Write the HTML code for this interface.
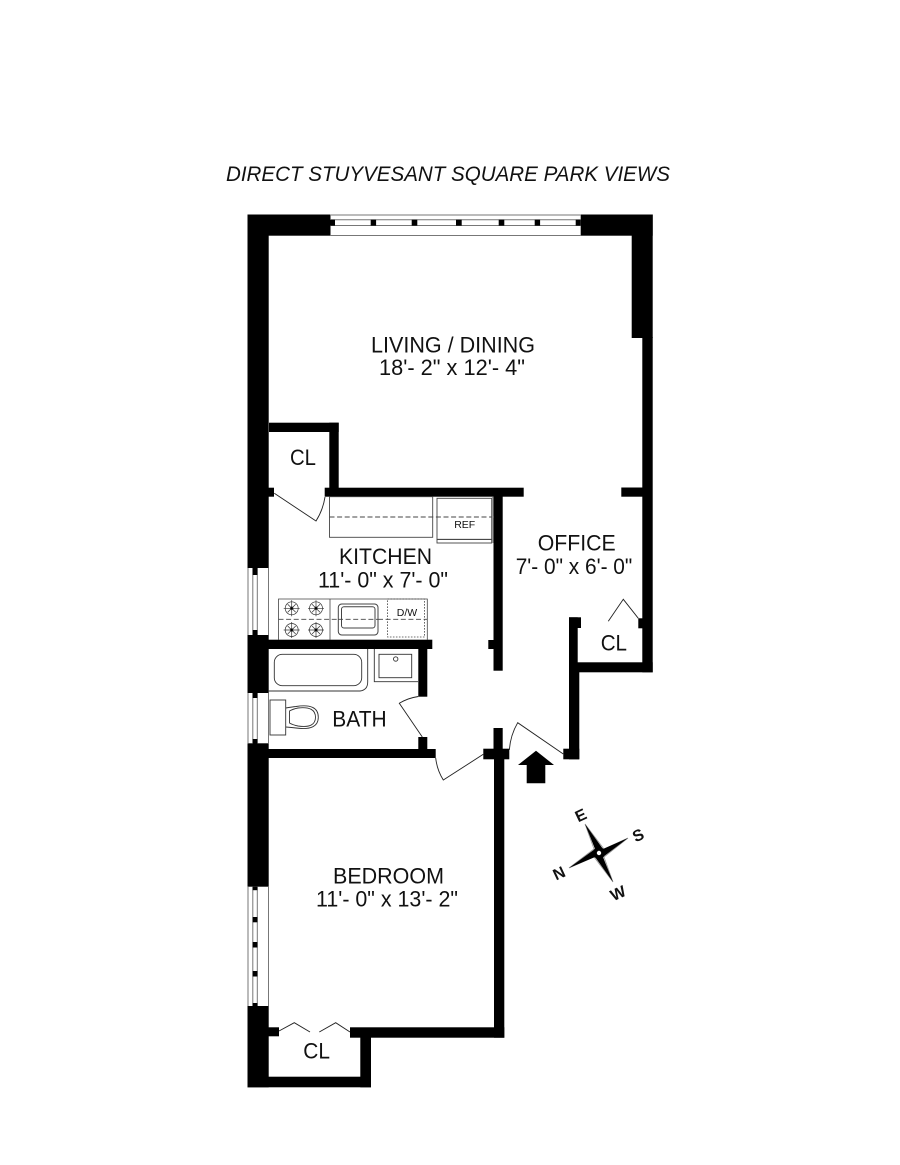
<!DOCTYPE html>
<html><head><meta charset="utf-8"><style>
html,body{margin:0;padding:0;background:#fff}
svg{display:block}
text{font-family:"Liberation Sans",Arial,sans-serif;fill:#111}
</style></head><body>
<svg width="900" height="1165" viewBox="0 0 900 1165" xmlns="http://www.w3.org/2000/svg">
<rect width="900" height="1165" fill="#fff"/>
<text x="226" y="181" font-size="21.5" font-style="italic" textLength="444" lengthAdjust="spacingAndGlyphs">DIRECT STUYVESANT SQUARE PARK VIEWS</text>

<!-- walls -->
<g fill="#000">
<rect x="247.5" y="214.5" width="83" height="21.2"/>
<rect x="580.7" y="214.5" width="72" height="21.2"/>
<rect x="247.5" y="214.5" width="21.2" height="353.5"/>
<rect x="631.7" y="214.5" width="21" height="123.5"/>
<rect x="642.3" y="337" width="10.4" height="335.3"/>
<rect x="269" y="422.7" width="69.7" height="9.3"/>
<rect x="329.3" y="422.7" width="9.4" height="70"/>
<rect x="324.7" y="487.7" width="199" height="9"/>
<rect x="268" y="487.7" width="6" height="9"/>
<rect x="621.3" y="487.5" width="21.5" height="9.2"/>
<rect x="493.5" y="496" width="9.2" height="174.7"/>
<rect x="488.3" y="640" width="6" height="9"/>
<rect x="247.5" y="635" width="21.2" height="58"/>
<rect x="268" y="639.7" width="164.3" height="9.3"/>
<rect x="418.3" y="649" width="9" height="47.7"/>
<rect x="418.3" y="737" width="9" height="13"/>
<rect x="247.5" y="743.3" width="21.2" height="143.4"/>
<rect x="268" y="749" width="167.7" height="9"/>
<rect x="493.5" y="728" width="9.2" height="21"/>
<rect x="483.3" y="748.7" width="26" height="10.6"/>
<rect x="494" y="759" width="10.3" height="278.7"/>
<rect x="350" y="1027.3" width="154.3" height="10.4"/>
<rect x="247.5" y="1006" width="21.2" height="81.3"/>
<rect x="268" y="1027.3" width="11" height="9"/>
<rect x="360.3" y="1030" width="10.7" height="57.3"/>
<rect x="247.5" y="1076.7" width="123.5" height="10.6"/>
<rect x="569" y="662.3" width="83.7" height="10"/>
<rect x="569" y="617.3" width="8.7" height="50"/>
<rect x="569" y="617.3" width="12" height="10.7"/>
<rect x="569" y="670" width="10.3" height="89.3"/>
<rect x="563.3" y="748.7" width="16" height="10.6"/>
<rect x="638.3" y="618.3" width="5" height="10"/>
<path d="M536 750.7 L554 765 L545.3 765 L545.3 783.3 L526.7 783.3 L526.7 765 L518 765 Z"/>
</g>

<!-- top window -->
<g fill="none" stroke="#777" stroke-width="1">
<path d="M330 215 H580.7 M330 219.7 H580.7 M330 225.5 H580.7 M330 235.5 H580.7"/>
</g>
<g fill="#000">
<rect x="330" y="219.7" width="5" height="6"/><rect x="370.7" y="219.7" width="5.4" height="6"/>
<rect x="411.7" y="219.7" width="5.6" height="6"/><rect x="456" y="219.7" width="5.7" height="6"/>
<rect x="498.7" y="219.7" width="5.6" height="6"/><rect x="534.7" y="219.7" width="5.4" height="6"/>
<rect x="575.7" y="219.7" width="5" height="6"/>
</g>

<!-- left windows -->
<g fill="none" stroke="#777" stroke-width="1">
<path d="M248 568 V635 M252.8 568 V635 M257.3 568 V635 M268.5 568 V635"/>
<path d="M248 693 V743.3 M252.8 693 V743.3 M257.3 693 V743.3 M268.5 693 V743.3"/>
<path d="M248 886.7 V1006 M252.8 886.7 V1006 M257.3 886.7 V1006 M268.5 886.7 V1006"/>
</g>
<g fill="#000">
<rect x="252.7" y="568" width="4.7" height="7"/><rect x="252.7" y="630" width="4.7" height="5"/>
<rect x="252.7" y="693" width="4.7" height="5"/><rect x="252.7" y="739" width="4.7" height="4.5"/>
<rect x="252.7" y="886.7" width="4.7" height="3.5"/><rect x="252.7" y="917" width="4.7" height="5.3"/>
<rect x="252.7" y="942" width="4.7" height="5.5"/><rect x="252.7" y="971" width="4.7" height="5.5"/>
<rect x="252.7" y="1003" width="4.7" height="3"/>
</g>

<!-- doors -->
<g fill="none" stroke="#222" stroke-width="0.9">
<path d="M274.3 493.3 L316 521 Q323 510 325 497"/>
<path d="M422.3 737 L399.3 703.3 Q408 698 418.3 696.5"/>
<path d="M483.3 754.3 L443.3 780 Q437 770 435.7 758"/>
<path d="M563.3 754 L517.7 722.7 Q510.5 735 509.3 750"/>
<path d="M638.3 618.3 L623.3 599.3 L608.3 621.3"/>
<path d="M279 1031 L294.3 1022.7 L310 1032"/>
<path d="M350 1032 L335.7 1022.7 L319.3 1032"/>
</g>

<!-- kitchen upper -->
<g fill="none" stroke="#444" stroke-width="0.9">
<rect x="329.5" y="496.7" width="103.2" height="40.6"/>
<rect x="437" y="498.3" width="54.7" height="41"/>
<rect x="437" y="539.5" width="54.7" height="3.5"/>
<path d="M329.5 517 H494" stroke-dasharray="5 2.6"/>
<path d="M492.7 497 V543" stroke="#999" stroke-width="1.5"/>
</g>
<text x="464.7" y="528" font-size="10.5" text-anchor="middle" fill="#333">REF</text>

<!-- kitchen counter -->
<g fill="none" stroke="#444" stroke-width="0.8">
<path d="M278.5 640 V599 H427.3 V640"/>
<path d="M330 599 V640"/>
<path d="M278.5 619.3 H338 M378 619.3 H427.3" stroke-dasharray="5 2.6"/>
<rect x="387.5" y="599" width="37" height="38" stroke-dasharray="1.6 1.4"/>
<rect x="338.3" y="604" width="39.7" height="31" rx="3.5" stroke-width="1"/>
<rect x="341.5" y="606.7" width="33.5" height="21.3" rx="2.5" stroke-width="1"/>
<path d="M338 619.3 H378" stroke-dasharray="5 2.6"/>
</g>
<text x="407" y="616" font-size="10.5" text-anchor="middle" fill="#333">D/W</text>
<g fill="none" stroke="#333" stroke-width="0.7">
<g transform="translate(291.7 608.3)"><circle r="6.5"/><path d="M-8 0H8M0-8V8M-4-4L4 4M-4 4L4-4"/><circle r="1.4" fill="#000"/></g>
<g transform="translate(316 608.3)"><circle r="6.5"/><path d="M-8 0H8M0-8V8M-4-4L4 4M-4 4L4-4"/><circle r="1.4" fill="#000"/></g>
<g transform="translate(291.7 630)"><circle r="6.5"/><path d="M-8 0H8M0-8V8M-4-4L4 4M-4 4L4-4"/><circle r="1.4" fill="#000"/></g>
<g transform="translate(316 630)"><circle r="6.5"/><path d="M-8 0H8M0-8V8M-4-4L4 4M-4 4L4-4"/><circle r="1.4" fill="#000"/></g>
</g>

<!-- bath -->
<g fill="none" stroke="#333" stroke-width="0.9">
<path d="M268.7 691 H360 Q367.7 690 367.7 682 V649"/>
<rect x="274.3" y="654.3" width="87.4" height="31.4" rx="8"/>
<path d="M374.3 649 V681.7 H418"/>
<rect x="379" y="654.3" width="32.7" height="23.4"/>
<circle cx="395.7" cy="659" r="2.2"/>
<rect x="270" y="700" width="15.7" height="35"/>
<path d="M285.7 708 Q292 707 296 706.5 Q318.3 703 318.3 717.3 Q318.3 731 296 728 Q292 727.5 285.7 727"/>
<path d="M289.5 711 Q293 709 298 708 Q315.5 706 315.5 717.3 Q315.5 728.5 298 726 Q293 725 289.5 723 Z"/>
</g>

<!-- compass -->
<g>
<path d="M585 824 L594 849 L569 868 L594 857 L613 882 L604 857 L628 838 L604 849 Z" fill="none" stroke="#999" stroke-width="0.8"/>
<path d="M585 824 L603 849 L628 838 L603 857 L613 882 L595 857 L569 868 L595 849 Z" fill="#000"/>
<circle cx="599" cy="853" r="6" fill="#000"/>
<circle cx="599" cy="853" r="2.2" fill="#fff"/>
</g>
<g font-size="16" font-weight="bold" text-anchor="middle">
<text transform="translate(583.1 820.2) rotate(-25)">E</text>
<text transform="translate(640.4 840.2) rotate(-25)">S</text>
<text transform="translate(620.4 898.2) rotate(-25)">W</text>
<text transform="translate(561.4 878.2) rotate(-25)">N</text>
</g>

<!-- labels -->
<g font-size="22">
<text x="371" y="352.5" textLength="164" lengthAdjust="spacingAndGlyphs">LIVING / DINING</text>
<text x="379" y="375" textLength="146" lengthAdjust="spacingAndGlyphs">18'- 2" x 12'- 4"</text>
<text x="339" y="564" textLength="93" lengthAdjust="spacingAndGlyphs">KITCHEN</text>
<text x="318" y="587.7" textLength="130" lengthAdjust="spacingAndGlyphs">11'- 0" x 7'- 0"</text>
<text x="537.7" y="550.7" textLength="78" lengthAdjust="spacingAndGlyphs">OFFICE</text>
<text x="515.7" y="574" textLength="116.6" lengthAdjust="spacingAndGlyphs">7'- 0" x 6'- 0"</text>
<text x="333" y="883.3" textLength="111" lengthAdjust="spacingAndGlyphs">BEDROOM</text>
<text x="316" y="906.7" textLength="142" lengthAdjust="spacingAndGlyphs">11'- 0" x 13'- 2"</text>
<text x="332.3" y="726.3" textLength="54.4" lengthAdjust="spacingAndGlyphs">BATH</text>
<text x="290" y="465" textLength="26" lengthAdjust="spacingAndGlyphs">CL</text>
<text x="600.7" y="650.7" textLength="26.3" lengthAdjust="spacingAndGlyphs">CL</text>
<text x="303.3" y="1058.7" textLength="26.7" lengthAdjust="spacingAndGlyphs">CL</text>
</g>
</svg>
</body></html>
